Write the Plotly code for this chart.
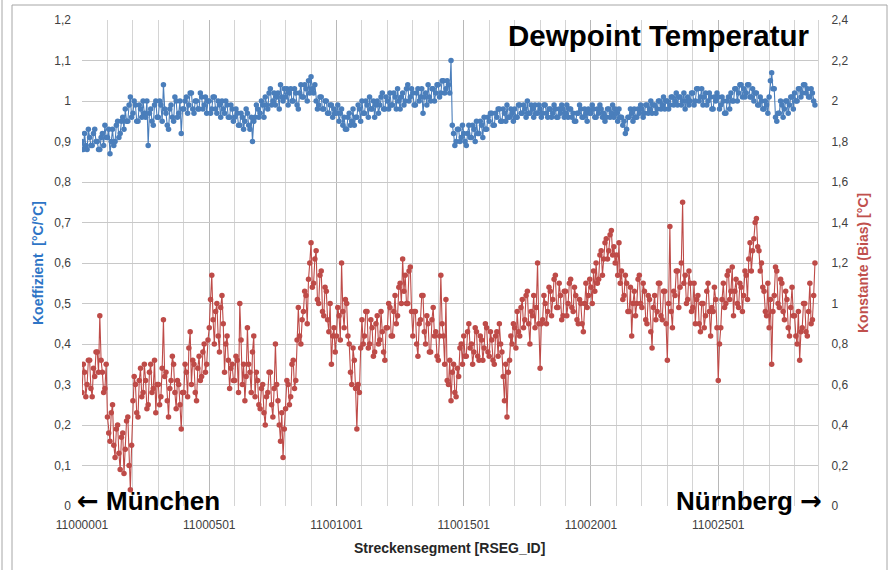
import plotly.graph_objects as go

# ---- data (one value every 5 segments) ----
SEG_FIRST = 11000001
SEG_STEP = 5

# Koeffizient [°C/°C]  (left axis)
koeffizient = [
    0.90, 0.88, 0.92, 0.89, 0.88, 0.93, 0.91, 0.89, 0.89, 0.92, 0.93, 0.90, 0.90, 0.88, 0.88, 0.91, 0.92, 0.89, 0.94, 0.91,
    0.91, 0.93, 0.87, 0.90, 0.93, 0.89, 0.90, 0.94, 0.95, 0.91, 0.92, 0.95, 0.96, 0.93, 0.98, 0.95, 0.95, 0.99, 1.01, 0.96,
    0.97, 1.00, 0.99, 0.95, 0.95, 0.99, 0.98, 0.96, 1.00, 0.97, 0.96, 1.00, 0.89, 0.97, 0.98, 0.95, 0.94, 0.99, 1.00, 0.96,
    0.96, 1.00, 0.99, 0.95, 1.04, 0.98, 0.97, 0.94, 0.93, 0.98, 0.99, 0.96, 0.95, 1.01, 1.00, 0.96, 0.97, 1.00, 0.92, 0.98,
    0.98, 1.00, 1.01, 0.97, 0.99, 1.02, 1.02, 0.98, 0.97, 1.00, 1.00, 0.98, 0.98, 1.02, 1.01, 0.98, 0.99, 1.01, 0.97, 1.00,
    1.00, 0.97, 0.98, 1.01, 1.01, 0.98, 0.97, 1.00, 0.99, 0.96, 1.00, 0.98, 0.97, 1.00, 0.99, 0.96, 0.96, 0.99, 0.98, 0.95,
    0.96, 0.98, 0.97, 0.94, 0.94, 0.97, 0.96, 0.93, 0.95, 0.98, 0.97, 0.94, 0.93, 0.96, 0.90, 0.95, 0.96, 0.99, 0.98, 0.96,
    0.97, 1.00, 0.99, 0.96, 1.01, 0.99, 0.98, 1.02, 1.03, 0.99, 1.00, 1.02, 0.99, 1.01, 1.02, 0.98, 1.04, 1.01, 1.00, 1.03,
    1.01, 1.03, 0.99, 1.02, 1.03, 1.00, 1.00, 1.03, 1.02, 0.99, 0.98, 1.02, 1.04, 1.01, 1.01, 1.04, 1.03, 1.00, 1.05, 1.02,
    1.06, 1.03, 1.02, 1.04, 1.00, 0.98, 0.99, 1.01, 1.01, 0.98, 0.98, 1.00, 1.00, 0.97, 0.97, 0.99, 0.99, 0.96, 0.98, 0.97,
    0.97, 0.99, 0.95, 0.97, 0.98, 0.94, 0.96, 0.93, 0.93, 0.96, 0.97, 0.94, 0.95, 0.98, 0.94, 0.96, 0.96, 0.99, 0.98, 0.95,
    1.00, 0.97, 0.97, 1.00, 0.99, 0.96, 1.01, 0.98, 0.98, 1.00, 0.96, 0.99, 1.00, 0.97, 0.99, 1.01, 1.02, 0.98, 0.98, 1.01,
    1.00, 0.98, 1.02, 0.99, 0.99, 1.02, 1.01, 0.98, 1.03, 1.00, 0.98, 1.01, 1.02, 0.99, 1.00, 1.03, 1.04, 1.00, 1.01, 1.03,
    1.02, 0.99, 0.99, 1.02, 1.03, 1.00, 1.01, 1.03, 0.97, 1.01, 1.02, 0.99, 1.04, 1.01, 1.00, 1.03, 1.03, 1.00, 1.02, 1.04,
    1.04, 1.01, 1.02, 1.05, 1.05, 1.02, 1.03, 1.05, 1.04, 1.02, 1.10, 0.94, 0.92, 0.89, 0.90, 0.93, 0.93, 0.90, 0.91, 0.94,
    0.92, 0.90, 0.89, 0.92, 0.94, 0.91, 0.91, 0.94, 0.93, 0.90, 0.95, 0.92, 0.92, 0.95, 0.94, 0.91, 0.96, 0.93, 0.93, 0.96,
    0.95, 0.97, 0.97, 0.94, 0.94, 0.97, 0.96, 0.98, 0.98, 0.95, 0.95, 0.98, 0.97, 0.95, 0.99, 0.96, 0.96, 0.98, 0.97, 0.95,
    0.98, 0.96, 0.96, 0.99, 0.99, 0.97, 0.97, 0.99, 0.98, 0.96, 1.00, 0.97, 0.97, 0.99, 0.98, 0.96, 0.99, 0.97, 0.97, 0.99,
    0.98, 0.96, 0.97, 0.99, 0.99, 0.97, 0.96, 0.98, 0.98, 0.96, 0.97, 0.99, 0.98, 0.96, 0.96, 0.98, 0.97, 0.99, 0.98, 0.96,
    0.97, 0.99, 0.96, 0.98, 0.98, 0.96, 0.97, 0.95, 0.95, 0.97, 0.97, 0.99, 0.98, 0.96, 0.96, 0.98, 0.97, 0.95, 0.98, 0.97,
    0.97, 0.99, 0.98, 0.96, 0.96, 0.98, 0.97, 0.99, 0.98, 0.96, 0.97, 0.95, 0.96, 0.98, 0.98, 0.96, 0.97, 0.99, 0.96, 0.98,
    0.97, 0.95, 0.98, 0.96, 0.96, 0.94, 0.95, 0.92, 0.93, 0.96, 0.96, 0.98, 0.97, 0.95, 0.98, 0.96, 0.96, 0.98, 0.97, 0.99,
    0.98, 0.96, 0.97, 0.99, 0.99, 0.97, 0.98, 1.00, 0.97, 0.99, 0.99, 0.97, 0.98, 1.00, 1.00, 0.98, 0.99, 1.01, 0.98, 1.00,
    1.00, 0.98, 0.99, 1.01, 1.01, 0.99, 1.00, 1.02, 0.99, 1.01, 1.01, 0.99, 1.00, 1.02, 0.98, 1.00, 1.01, 0.99, 1.00, 1.02,
    1.02, 0.99, 1.00, 1.03, 1.03, 1.00, 1.01, 1.03, 0.99, 1.01, 1.02, 0.99, 1.00, 1.02, 1.01, 0.98, 0.98, 1.01, 1.00, 1.02,
    1.01, 0.98, 0.99, 1.01, 1.00, 0.97, 0.97, 1.00, 1.01, 0.98, 1.02, 1.00, 1.00, 1.03, 1.03, 1.00, 1.02, 1.04, 1.04, 1.01,
    1.03, 1.01, 1.02, 1.04, 1.04, 1.01, 1.01, 1.03, 1.00, 1.02, 1.02, 0.99, 0.99, 1.01, 1.00, 0.98, 0.98, 1.00, 0.99, 0.97,
    1.01, 1.05, 1.07, 1.03, 1.03, 0.96, 0.95, 0.97, 0.97, 1.00, 0.99, 0.96, 0.98, 1.00, 1.00, 0.97, 0.99, 1.01, 1.01, 0.98,
    1.02, 1.00, 1.00, 1.03, 1.03, 1.01, 1.02, 1.04, 1.04, 1.02, 1.03, 1.01, 1.01, 1.03, 1.02, 1.00, 0.99,
]

# Konstante (Bias) [°C]  (right axis)
konstante = [
    0.56, 0.70, 0.66, 0.54, 0.60, 0.72, 0.72, 0.58, 0.54, 0.68, 0.64, 0.76, 0.76, 0.66, 0.94, 0.72, 0.66, 0.56, 0.58, 0.70,
    0.44, 0.36, 0.32, 0.46, 0.50, 0.30, 0.24, 0.38, 0.40, 0.26, 0.18, 0.34, 0.36, 0.16, 0.28, 0.42, 0.44, 0.20, 0.08, 0.30,
    0.52, 0.64, 0.60, 0.46, 0.44, 0.62, 0.68, 0.54, 0.56, 0.70, 0.62, 0.48, 0.50, 0.66, 0.70, 0.56, 0.58, 0.72, 0.46, 0.60,
    0.60, 0.50, 0.54, 0.68, 0.92, 0.64, 0.66, 0.52, 0.44, 0.58, 0.62, 0.74, 0.70, 0.56, 0.48, 0.62, 0.60, 0.50, 0.38, 0.56,
    0.56, 0.70, 0.66, 0.54, 0.78, 0.86, 0.60, 0.72, 0.70, 0.56, 0.52, 0.68, 0.74, 0.62, 0.64, 0.76, 0.80, 0.66, 0.70, 0.82,
    0.88, 1.02, 1.14, 0.92, 0.80, 0.96, 1.00, 0.84, 0.76, 0.98, 1.04, 0.90, 0.66, 0.80, 0.84, 0.72, 0.58, 0.68, 0.70, 0.62,
    0.62, 0.74, 0.72, 0.56, 1.00, 0.82, 0.60, 0.70, 0.52, 0.64, 0.88, 0.70, 0.66, 0.56, 0.76, 0.84, 0.54, 0.66, 0.62, 0.50,
    0.48, 0.58, 0.60, 0.46, 0.40, 0.54, 0.56, 0.66, 0.66, 0.50, 0.44, 0.58, 0.80, 0.60, 0.52, 0.40, 0.32, 0.46, 0.24, 0.38,
    0.48, 0.62, 0.60, 0.50, 0.54, 0.70, 0.72, 0.58, 0.62, 0.82, 0.98, 0.84, 0.80, 0.92, 0.96, 1.06, 1.04, 0.90, 1.12, 1.20,
    1.30, 1.08, 1.10, 1.22, 1.26, 1.02, 1.00, 1.14, 1.16, 0.96, 0.94, 1.08, 1.06, 0.92, 0.86, 1.00, 0.70, 0.84, 0.88, 0.76,
    0.84, 0.98, 0.94, 0.82, 1.20, 0.96, 0.88, 1.02, 1.00, 0.84, 0.80, 0.66, 0.60, 0.78, 0.72, 0.58, 0.38, 0.60, 0.56, 0.78,
    0.92, 0.80, 0.84, 0.96, 0.96, 0.78, 0.80, 0.92, 0.88, 0.74, 0.76, 0.90, 0.94, 0.80, 0.82, 0.96, 0.86, 0.76, 0.72, 0.88,
    0.88, 1.00, 0.98, 0.84, 0.84, 0.96, 1.04, 0.90, 0.94, 1.08, 1.10, 1.00, 1.22, 1.06, 1.14, 1.00, 1.00, 1.16, 1.18, 0.96,
    0.84, 0.96, 0.96, 0.80, 0.74, 0.90, 0.92, 1.04, 1.04, 0.86, 0.80, 0.94, 0.90, 0.76, 0.76, 0.92, 0.98, 0.84, 0.86, 0.74,
    0.72, 0.84, 1.14, 0.90, 0.84, 0.70, 1.02, 0.62, 0.60, 0.72, 0.52, 0.66, 0.70, 0.56, 0.54, 0.68, 0.64, 0.78, 0.80, 0.70,
    0.84, 0.74, 0.74, 0.86, 0.90, 0.78, 0.80, 0.70, 0.76, 0.88, 0.86, 0.74, 0.72, 0.84, 0.82, 0.72, 0.78, 0.90, 0.88, 0.76,
    0.74, 0.86, 0.82, 0.72, 0.70, 0.84, 0.86, 0.74, 0.90, 0.80, 0.76, 0.64, 0.52, 0.70, 0.44, 0.66, 0.72, 0.84, 0.80, 0.90,
    0.88, 0.78, 0.96, 0.86, 0.84, 0.98, 1.02, 0.88, 0.92, 1.04, 1.06, 0.90, 0.80, 0.96, 0.94, 1.04, 0.88, 0.98, 1.20, 0.90,
    0.68, 0.90, 0.92, 1.04, 1.00, 0.90, 0.96, 1.08, 1.06, 0.94, 1.02, 1.12, 1.14, 0.98, 0.98, 1.10, 1.04, 0.92, 0.94, 1.06,
    1.06, 0.94, 1.00, 1.10, 1.12, 0.98, 0.96, 1.08, 1.04, 0.92, 0.90, 1.02, 1.00, 0.90, 0.86, 1.00, 1.10, 0.98, 1.04, 1.12,
    1.08, 1.00, 1.16, 1.06, 1.20, 1.10, 1.12, 1.24, 1.26, 1.14, 1.22, 1.30, 1.32, 1.22, 1.26, 1.34, 1.36, 1.24, 1.28, 1.20,
    1.24, 1.14, 1.30, 1.10, 1.16, 1.02, 1.04, 1.14, 1.10, 0.96, 0.96, 1.08, 0.84, 1.00, 1.06, 0.94, 1.00, 1.12, 1.14, 1.00,
    0.98, 1.10, 1.06, 0.92, 0.90, 1.04, 1.02, 0.86, 0.78, 0.98, 1.04, 0.92, 0.96, 1.10, 1.10, 0.94, 0.92, 1.06, 1.06, 0.90,
    0.72, 1.00, 1.38, 0.96, 0.88, 1.06, 1.04, 1.16, 1.16, 0.98, 1.08, 1.20, 1.50, 1.10, 1.14, 1.00, 1.02, 1.16, 1.10, 0.96,
    0.98, 1.10, 0.90, 1.02, 1.04, 0.90, 0.86, 1.00, 1.00, 0.88, 0.94, 1.06, 1.10, 0.96, 0.84, 0.98, 0.96, 1.08, 1.02, 0.88,
    0.62, 0.80, 0.88, 1.02, 1.10, 0.98, 1.00, 1.14, 1.16, 1.02, 1.06, 1.18, 0.94, 1.06, 1.12, 1.00, 0.98, 1.10, 1.08, 0.96,
    1.04, 1.16, 1.14, 1.02, 1.22, 1.30, 1.16, 1.26, 1.32, 1.40, 1.42, 1.28, 1.26, 1.16, 1.20, 1.08, 1.06, 0.96, 0.94, 1.10,
    0.88, 1.02, 0.70, 0.96, 1.04, 1.18, 1.16, 1.00, 0.98, 1.12, 1.10, 0.96, 0.92, 1.06, 1.02, 0.88, 0.84, 0.98, 1.08, 0.94,
    0.94, 0.84, 0.80, 0.96, 0.72, 0.86, 0.88, 1.00, 1.00, 0.86, 0.84, 0.96, 1.10, 0.90, 0.92, 1.04, 1.20,
]

seg_ids_k = [SEG_FIRST + SEG_STEP * i for i in range(len(koeffizient))]
seg_ids_c = [SEG_FIRST + SEG_STEP * i for i in range(len(konstante))]

x_tick_vals = [11000001, 11000501, 11001001, 11001501, 11002001, 11002501]
x_tick_text = ["11000001", "11000501", "11001001", "11001501", "11002001", "11002501"]
y1_tick_vals = [0, 0.1, 0.2, 0.3, 0.4, 0.5, 0.6, 0.7, 0.8, 0.9, 1.0, 1.1, 1.2]
y1_tick_text = ["0", "0,1", "0,2", "0,3", "0,4", "0,5", "0,6", "0,7", "0,8", "0,9", "1", "1,1", "1,2"]
y2_tick_vals = [0, 0.2, 0.4, 0.6, 0.8, 1.0, 1.2, 1.4, 1.6, 1.8, 2.0, 2.2, 2.4]
y2_tick_text = ["0", "0,2", "0,4", "0,6", "0,8", "1", "1,2", "1,4", "1,6", "1,8", "2", "2,2", "2,4"]

BLUE = "#4A7EBB"
RED = "#BE4B48"
TICK_FONT = dict(family="Liberation Sans, Arial, sans-serif", size=12, color="#404040")

fig = go.Figure()
fig.add_trace(go.Scatter(
    x=seg_ids_k, y=koeffizient, mode="lines+markers", name="Koeffizient",
    line=dict(color=BLUE, width=1.1), marker=dict(color=BLUE, size=5.5),
    yaxis="y",
))
fig.add_trace(go.Scatter(
    x=seg_ids_c, y=konstante, mode="lines+markers", name="Konstante",
    line=dict(color=RED, width=1.1), marker=dict(color=RED, size=5.5),
    yaxis="y2",
))

fig.update_layout(
    width=893, height=570,
    margin=dict(l=82, r=75, t=20, b=64),
    paper_bgcolor="white", plot_bgcolor="white",
    showlegend=False,
    xaxis=dict(
        range=[11000001, 11002893],
        tickvals=x_tick_vals, ticktext=x_tick_text,
        tickfont=TICK_FONT, ticks="", showline=False,
        showgrid=True, gridcolor="#B8B8B8", gridwidth=1,
        minor=dict(dtick=100, tick0=11000001, showgrid=True, gridcolor="#D4D4D4", gridwidth=1),
        zeroline=False, ticklabelstandoff=10,
    ),
    yaxis=dict(
        range=[0, 1.2], tickvals=y1_tick_vals, ticktext=y1_tick_text,
        tickfont=TICK_FONT, showgrid=True, gridcolor="#C8C8C8", gridwidth=1,
        zeroline=False, ticks="", ticklabelstandoff=10,
    ),
    yaxis2=dict(
        range=[0, 2.4], tickvals=y2_tick_vals, ticktext=y2_tick_text,
        tickfont=TICK_FONT, overlaying="y", side="right", showgrid=False,
        zeroline=False, ticks="", showline=True, linecolor="#D4D4D4", linewidth=1,
        ticklabelstandoff=10,
    ),
)

BOLD = "Liberation Sans, Arial, sans-serif"
ARROW = "<span style='font-family:DejaVu Sans'>{}</span>"
annotations = [
    dict(text="<b>Dewpoint Temperatur</b>", x=(812 - 82) / 736, y=(506 - 36) / 486,
         xanchor="right", yanchor="middle", font=dict(family=BOLD, size=29.5, color="black")),
    dict(text="<b>" + ARROW.format("←") + " München</b>", x=(75 - 82) / 736, y=(506 - 501) / 486,
         xanchor="left", yanchor="middle", font=dict(family=BOLD, size=26, color="black")),
    dict(text="<b>Nürnberg " + ARROW.format("→") + "</b>", x=(824 - 82) / 736, y=(506 - 501) / 486,
         xanchor="right", yanchor="middle", font=dict(family=BOLD, size=26, color="black")),
    dict(text="<b>Koeffizient  [°C/°C]</b>", x=(38 - 82) / 736, y=0.5, textangle=-90,
         xanchor="center", yanchor="middle", font=dict(family=BOLD, size=14, color="#2E75C6")),
    dict(text="<b>Konstante (Bias) [°C]</b>", x=(863 - 82) / 736, y=0.5, textangle=-90,
         xanchor="center", yanchor="middle", font=dict(family=BOLD, size=14, color="#C0504D")),
    dict(text="<b>Streckensegment [RSEG_ID]</b>", x=(449 - 82) / 736, y=(506 - 548) / 486,
         xanchor="center", yanchor="middle", font=dict(family=BOLD, size=14, color="#262626")),
]
for a in annotations:
    a.update(xref="paper", yref="paper", showarrow=False)
fig.update_layout(annotations=annotations)


def px_x(p):
    return (p - 82) / 736


def px_y(p):
    return (506 - p) / 486


fig.update_layout(shapes=[
    dict(type="rect", xref="paper", yref="paper", x0=px_x(12), x1=px_x(887), y0=px_y(580), y1=px_y(5),
         line=dict(color="#A6A6A6", width=1), fillcolor="rgba(0,0,0,0)", layer="below"),
    dict(type="line", xref="paper", yref="paper", x0=px_x(2), x1=px_x(2), y0=px_y(580), y1=px_y(-5),
         line=dict(color="#A6A6A6", width=1)),
])

fig.write_html("out.html", config={"displayModeBar": False},
               post_script="document.body.style.margin='0';")
